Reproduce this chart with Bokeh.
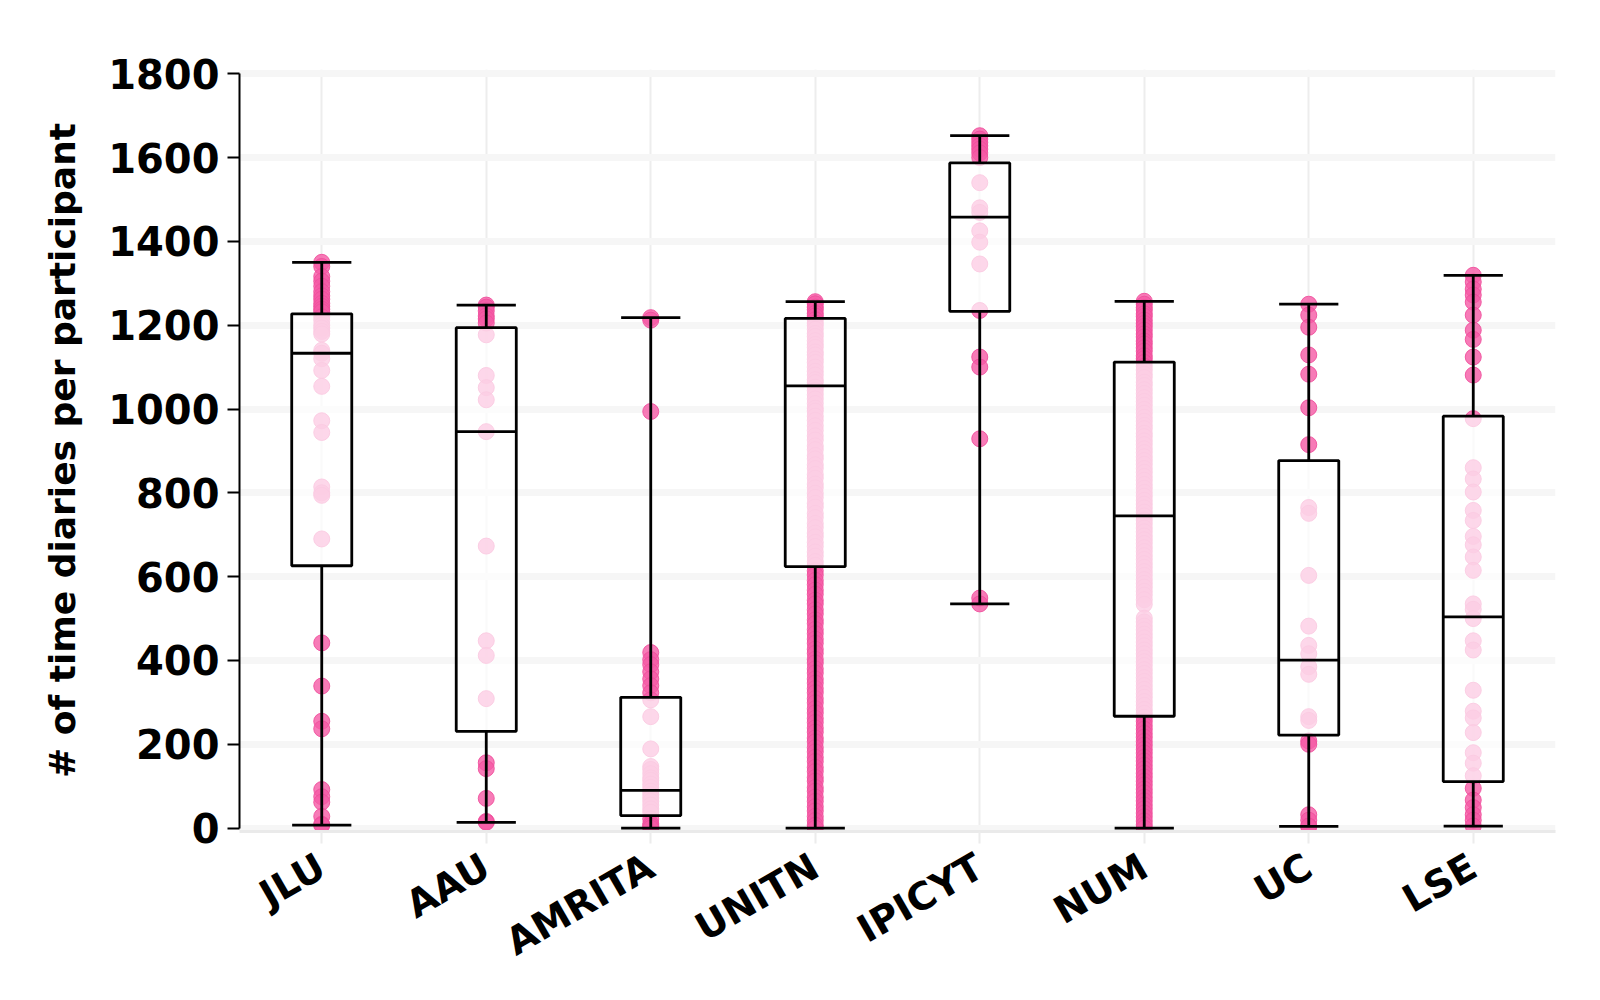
from bokeh.plotting import figure
from bokeh.models import FactorRange, Range1d, FixedTicker
from bokeh.embed import file_html
from bokeh.resources import INLINE

categories = ["JLU", "AAU", "AMRITA", "UNITN", "IPICYT", "NUM", "UC", "LSE"]

# box statistics
box_min = [7, 14, 0, 0, 535, 0, 4, 5]
box_q1 = [626, 231, 30, 624, 1233, 267, 222, 111]
box_median = [1133, 946, 90, 1055, 1458, 745, 401, 504]
box_q3 = [1227, 1194, 312, 1216, 1587, 1112, 877, 983]
box_max = [1350, 1248, 1218, 1256, 1652, 1257, 1250, 1319]

# individual participants (number of time diaries)
jlu = [1350, 1340, 1316, 1305, 1293, 1280, 1270, 1262, 1252, 1245, 1238, 1232,
       1220, 1211, 1200, 1193, 1185, 1179, 1140, 1133, 1120, 1092, 1054, 972,
       944, 814, 800, 794, 690, 442, 339, 255, 237, 92, 75, 62, 28, 9, 7]
aau = [1248, 1243, 1234, 1222, 1215, 1205, 1177, 1080, 1051, 1022, 946, 673,
       447, 412, 309, 156, 142, 71, 16, 14]
amrita = [1218, 1212, 994, 419, 402, 390, 373, 356, 340, 323, 306, 266, 189,
          147, 140, 130, 120, 114, 105, 97, 88, 80, 72, 64, 55, 46, 38, 22,
          10, 5, 0]
unitn = [1256, 1251, 1243, 1237, 1228, 1222, 1213, 1205, 1199, 1190, 1180,
         1173, 1163, 1154, 1147, 1136, 1129, 1119, 1111, 1100, 1090, 1081,
         1070, 1063, 1052, 1044, 1034, 1024, 1013, 1002, 995, 983, 973, 960,
         949, 936, 926, 912, 903, 889, 881, 867, 858, 844, 835, 821, 812, 799,
         789, 775, 766, 751, 741, 727, 717, 704, 695, 682, 672, 659, 649, 636,
         627, 614, 604, 591, 581, 568, 558, 544, 535, 521, 511, 497, 488, 474,
         464, 451, 441, 427, 417, 403, 394, 380, 370, 356, 346, 333, 323, 309,
         299, 285, 275, 262, 252, 239, 229, 215, 206, 192, 182, 169, 159, 145,
         135, 121, 112, 97, 88, 74, 64, 51, 41, 28, 18, 7, 0]
ipicyt = [1652, 1644, 1636, 1628, 1620, 1611, 1600, 1540, 1480, 1469, 1425,
          1398, 1346, 1235, 1124, 1100, 929, 549, 535]
num = [1257, 1250, 1242, 1236, 1227, 1221, 1212, 1204, 1197, 1188, 1179,
       1172, 1162, 1155, 1146, 1138, 1127, 1120, 1111, 1102, 1093, 1083, 1075,
       1064, 1056, 1046, 1037, 1027, 1018, 1009, 999, 990, 980, 971, 961, 953,
       942, 934, 924, 915, 905, 896, 886, 877, 868, 858, 849, 839, 830, 820,
       811, 801, 792, 782, 773, 764, 754, 745, 735, 726, 716, 707, 697, 688,
       679, 669, 660, 650, 641, 631, 622, 612, 603, 593, 584, 575, 565, 556,
       545, 534, 501, 492, 482, 473, 463, 454, 444, 435, 425, 416, 406, 397,
       388, 378, 369, 359, 350, 340, 331, 321, 312, 302, 293, 283, 274, 264,
       255, 245, 236, 226, 217, 207, 198, 188, 179, 169, 160, 150, 141, 131,
       122, 112, 103, 93, 84, 74, 65, 55, 46, 36, 27, 17, 8, 0]
uc = [1250, 1224, 1195, 1129, 1083, 1003, 915, 765, 751, 603, 482, 436, 416,
      385, 367, 266, 257, 208, 200, 32, 19, 5, 4]
lse = [1319, 1303, 1286, 1272, 1255, 1224, 1188, 1166, 1124, 1081, 977, 860,
       833, 802, 758, 734, 696, 676, 647, 615, 535, 522, 500, 447, 425, 329,
       279, 263, 228, 180, 155, 125, 95, 67, 49, 32, 19, 5]

groups = [jlu, aau, amrita, unitn, ipicyt, num, uc, lse]

pt_x = []
pt_y = []
for cat, vals in zip(categories, groups):
    for v in vals:
        pt_x.append(cat)
        pt_y.append(v)

p = figure(
    width=1584, height=990,
    x_range=FactorRange(*categories, range_padding=0),
    y_range=Range1d(-8, 1810),
    output_backend="svg", toolbar_location=None,
    min_border_left=239, min_border_right=29,
    min_border_top=69, min_border_bottom=159,
)
p.outline_line_color = None
p.background_fill_color = "white"

# grids
p.ygrid.ticker = FixedTicker(ticks=list(range(0, 1801, 200)))
p.ygrid.grid_line_color = "#f6f6f6"
p.ygrid.grid_line_width = 7
p.xgrid.grid_line_color = "#ededed"
p.xgrid.grid_line_width = 2

# y axis
p.yaxis.ticker = FixedTicker(ticks=list(range(0, 1801, 200)))
p.yaxis.bounds = (0, 1800)
p.yaxis.axis_line_color = "black"
p.yaxis.axis_line_width = 2
p.yaxis.major_tick_line_color = "black"
p.yaxis.major_tick_line_width = 2
p.yaxis.major_tick_out = 12
p.yaxis.major_tick_in = 0
p.yaxis.minor_tick_line_color = None
p.yaxis.major_label_standoff = 8
p.yaxis.major_label_text_font = "DejaVu Sans"
p.yaxis.major_label_text_font_style = "bold"
p.yaxis.major_label_text_font_size = "40px"
p.yaxis.major_label_text_color = "black"
p.yaxis.axis_label = "# of time diaries per participant"
p.yaxis.axis_label_text_font = "DejaVu Sans"
p.yaxis.axis_label_text_font_style = "bold"
p.yaxis.axis_label_text_font_size = "36px"
p.yaxis.axis_label_text_color = "black"
p.yaxis.axis_label_standoff = 22

# x axis
p.xaxis.axis_line_color = "#eaeaea"
p.xaxis.axis_line_width = 3
p.xaxis.major_tick_line_color = "#ececec"
p.xaxis.major_tick_line_width = 2
p.xaxis.major_tick_out = 12
p.xaxis.major_tick_in = 0
p.xaxis.major_label_orientation = 0.5236
p.xaxis.major_label_standoff = 20
p.xaxis.major_label_text_font = "DejaVu Sans"
p.xaxis.major_label_text_font_style = "bold"
p.xaxis.major_label_text_font_size = "38px"
p.xaxis.major_label_text_color = "black"

# points
p.scatter(x=pt_x, y=pt_y, size=16, fill_color="#f55aa5", fill_alpha=0.8,
          line_color="#ef4f9c", line_alpha=0.9, line_width=1)

# whiskers
p.segment(x0=categories, y0=box_min, x1=categories, y1=box_q1,
          line_color="black", line_width=2.8)
p.segment(x0=categories, y0=box_q3, x1=categories, y1=box_max,
          line_color="black", line_width=2.8)
cap_l = [(c, -0.18) for c in categories]
cap_r = [(c, 0.18) for c in categories]
p.segment(x0=cap_l, y0=box_min, x1=cap_r, y1=box_min,
          line_color="black", line_width=2.8)
p.segment(x0=cap_l, y0=box_max, x1=cap_r, y1=box_max,
          line_color="black", line_width=2.8)

# boxes
p.vbar(x=categories, bottom=box_q1, top=box_q3, width=0.365,
       fill_color="white", fill_alpha=0.7, line_color="black", line_width=2.8)
p.segment(x0=cap_l, y0=box_median, x1=cap_r, y1=box_median,
          line_color="black", line_width=2.8)

open("out.html", "w").write(file_html(p, INLINE))
